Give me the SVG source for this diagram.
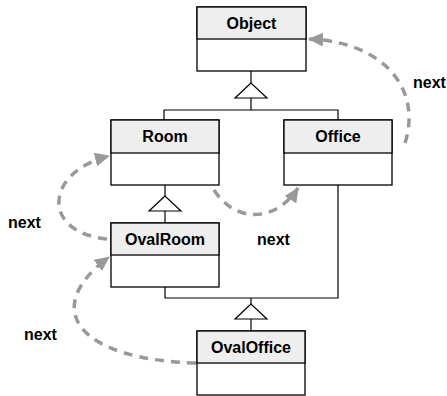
<svg xmlns="http://www.w3.org/2000/svg" width="447" height="396" viewBox="0 0 447 396">
<style>
.box{fill:#fff;stroke:#000;stroke-width:1.3}
.hdr{fill:#eeeeee;stroke:#000;stroke-width:1.3}
.t{font-family:"Liberation Sans",Arial,sans-serif;font-weight:bold;font-size:16px;fill:#000;text-anchor:middle}
.lbl{font-family:"Liberation Sans",Arial,sans-serif;font-weight:bold;font-size:16px;fill:#000}
.inh{fill:none;stroke:#000;stroke-width:1.2}
.tri{fill:#fff;stroke:#000;stroke-width:1.2}
.nx{fill:none;stroke:#999;stroke-width:3.5;stroke-dasharray:9,7;marker-end:url(#ah)}
</style>
<defs>
<marker id="ah" markerUnits="userSpaceOnUse" markerWidth="16" markerHeight="14" refX="14" refY="7" orient="auto">
<path d="M0,0 L15,7 L0,14 Z" fill="#999"/>
</marker>
</defs>
<g id="connectors">
<path class="inh" d="M251 71 V83"/>
<polygon class="tri" points="251,83 235,98 267,98"/>
<path class="inh" d="M251 98 V110 M164 120 V110 H338 V120"/>
<path class="inh" d="M165 185 V196"/>
<polygon class="tri" points="165,196 149,211 181,211"/>
<path class="inh" d="M165 211 V223"/>
<path class="inh" d="M165 287 V298 H338 V185"/>
<path class="inh" d="M251 298 V304"/>
<polygon class="tri" points="251,304 235,319 267,319"/>
<path class="inh" d="M251 319 V331"/>
<path class="nx" d="M405 143 C422 90 385 42 309 39"/>
<path class="nx" d="M214 190 C236 224 276 222 298 188"/>
<path class="nx" d="M107 239 C40 232 45 172 109 156"/>
<path class="nx" d="M196 363 C80 360 38 310 109 257"/>
<text class="lbl" x="413" y="88">next</text>
<text class="lbl" x="257" y="245">next</text>
<text class="lbl" x="8" y="228">next</text>
<text class="lbl" x="24" y="340">next</text>
</g>
<g id="Object">
<rect class="box" x="197" y="7" width="109" height="64"/>
<rect class="hdr" x="197" y="7" width="109" height="32"/>
<text class="t" x="251.5" y="29">Object</text>
</g>
<g id="Room">
<rect class="box" x="111" y="120" width="108" height="65"/>
<rect class="hdr" x="111" y="120" width="108" height="33"/>
<text class="t" x="165" y="142">Room</text>
</g>
<g id="Office">
<rect class="box" x="284" y="120" width="108" height="65"/>
<rect class="hdr" x="284" y="120" width="108" height="33"/>
<text class="t" x="338" y="142">Office</text>
</g>
<g id="OvalRoom">
<rect class="box" x="111" y="223" width="108" height="64"/>
<rect class="hdr" x="111" y="223" width="108" height="32"/>
<text class="t" x="165" y="245">OvalRoom</text>
</g>
<g id="OvalOffice">
<rect class="box" x="197" y="331" width="108" height="64"/>
<rect class="hdr" x="197" y="331" width="108" height="32"/>
<text class="t" x="251" y="353">OvalOffice</text>
</g>
</svg>
